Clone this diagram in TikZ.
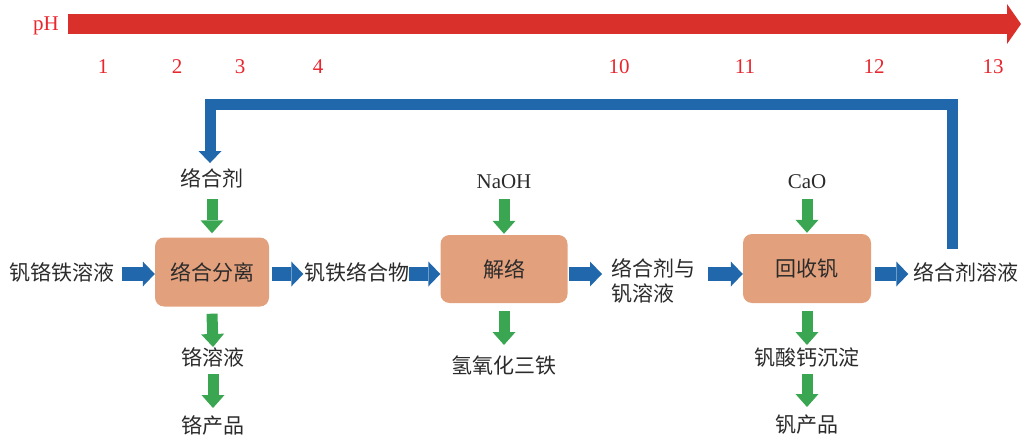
\documentclass[tikz,border=0pt]{standalone}
\usepackage{fontspec}
\setmainfont{Liberation Serif}
\newfontfamily\cjk{Noto Sans CJK SC}
\usetikzlibrary{arrows.meta}
\definecolor{phred}{HTML}{D9302C}
\definecolor{phtext}{HTML}{E8262E}
\definecolor{flowblue}{HTML}{2068AB}
\definecolor{flowgreen}{HTML}{3BA652}
\definecolor{boxfill}{HTML}{E3A07C}
\definecolor{txt}{HTML}{2B2B2B}
\begin{document}
\begin{tikzpicture}[x=1pt,y=-1pt,
 lbl/.style={inner sep=0pt, text=txt, font=\cjk\fontsize{21}{25}\selectfont},
 lat/.style={inner sep=0pt, text=txt, font=\fontsize{21}{24}\selectfont},
 phnum/.style={inner sep=0pt, text=phtext, font=\fontsize{21}{24}\selectfont},
 proc/.style={lbl, fill=boxfill, rounded corners=9pt},
 barrow/.style={draw=flowblue, line width=14pt, -{Triangle[width=25pt,length=12pt,line width=0pt]}},
 garrow/.style={draw=flowgreen, line width=11pt, -{Triangle[width=23pt,length=13pt,line width=0pt]}},
 fbarrow/.style={draw=flowblue, line width=11pt, -{Triangle[width=23pt,length=12pt,line width=0pt]}},
 pharrow/.style={draw=phred, line width=20pt, -{Triangle[width=40pt,length=14pt,line width=0pt]}},
 ]
\useasboundingbox (0,0) rectangle (1021,439);

% pH axis
\coordinate (phs) at (68,24);
\coordinate (phe) at (1021,24);
\draw[pharrow] (phs) -- (phe);
\node[phnum] (ph) at (46,26) {pH};
\node[phnum] (p1) at (103,67) {1};
\node[phnum] (p2) at (177,67) {2};
\node[phnum] (p3) at (240,67) {3};
\node[phnum] (p4) at (318,67) {4};
\node[phnum] (p10) at (619,67) {10};
\node[phnum] (p11) at (745,67) {11};
\node[phnum] (p12) at (874,67) {12};
\node[phnum] (p13) at (993,67) {13};

% main row
\coordinate (row) at (0,274);
\node[lbl] (t1) at (62,272) {钒铬铁溶液};
\node[proc, minimum width=114pt, minimum height=69pt] (b1) at (212,272) {络合分离};
\node[lbl] (t2) at (357,272) {钒铁络合物};
\node[proc, minimum width=127pt, minimum height=68pt] (b2) at (504,269) {解络};
\node[lbl, align=left, anchor=west] (t3) at (611,281) {络合剂与\\钒溶液};
\node[proc, minimum width=128pt, minimum height=69pt] (b3) at (807,268.5) {回收钒};
\node[lbl] (t4) at (966,272) {络合剂溶液};

% inputs
\node[lbl] (n1) at (212,178) {络合剂};
\node[lat] (n2) at (504,182) {NaOH};
\node[lat] (n3) at (807,182) {CaO};

% outputs
\node[lbl] (d1) at (213,357) {铬溶液};
\node[lbl] (d2) at (213,425) {铬产品};
\node[lbl] (d3) at (504,365) {氢氧化三铁};
\node[lbl] (d4) at (807,358) {钒酸钙沉淀};
\node[lbl] (d5) at (807,425) {钒产品};

% blue flow arrows
\draw[barrow] ([xshift=7pt]t1.east |- row) -- (b1.west |- row);
\draw[barrow] ([xshift=3pt]b1.east |- row) -- ([xshift=-1pt]t2.west |- row);
\draw[barrow] ([xshift=-1pt]t2.east |- row) -- (b2.west |- row);
\draw[barrow] ([xshift=1pt]b2.east |- row) -- ([xshift=-9pt]t3.west |- row);
\draw[barrow] ([xshift=13pt]t3.east |- row) -- (b3.west |- row);
\draw[barrow] ([xshift=4pt]b3.east |- row) -- ([xshift=-5pt]t4.west |- row);

% recycle loop
\coordinate (fb) at (952,249);
\coordinate (top) at (0,104);
\draw[fbarrow] (fb) |- ([xshift=-2pt]n1.north |- top) -- ([xshift=-2pt,yshift=5pt]n1.north);

% green arrows
\draw[garrow] ([yshift=-21pt]n1.center) -- ([yshift=4pt]b1.north);
\draw[garrow] ([yshift=-17pt]n2.center) -- ([yshift=1pt]b2.north);
\draw[garrow] ([yshift=-17pt]n3.center) -- ([yshift=1pt]b3.north);
\draw[garrow] ([yshift=-7pt]b1.south) -- ([yshift=10pt]d1.center);
\draw[garrow] ([yshift=-17pt]d1.center) -- ([yshift=17pt]d2.center);
\draw[garrow] ([yshift=-8pt]b2.south) -- ([yshift=20pt]d3.center);
\draw[garrow] ([yshift=-8pt]b3.south) -- ([yshift=13pt]d4.center);
\draw[garrow] ([yshift=-16pt]d4.center) -- ([yshift=18pt]d5.center);
\end{tikzpicture}
\end{document}
